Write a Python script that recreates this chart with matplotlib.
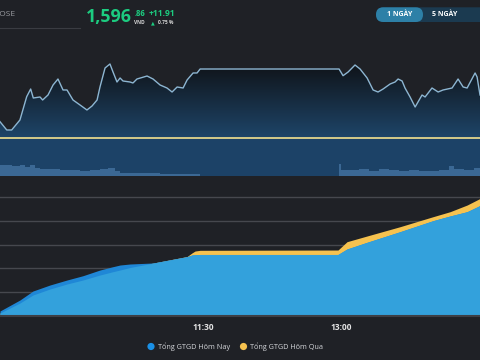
import matplotlib
matplotlib.use("Agg")
import matplotlib.pyplot as plt
import numpy as np
from matplotlib.patches import FancyBboxPatch, Circle
from matplotlib.colors import LinearSegmentedColormap

plt.rcParams['font.family'] = ['Open Sans', 'DejaVu Sans']

# ---------------- data ----------------
# time axis: minutes after 09:00
price_t = [17.5, 21.9, 25.1, 30.5, 34.9, 37.5, 39.2, 43.6, 45.3, 48.8, 52.1, 55.3, 58.6, 61.2,
           65.1, 69.7, 74.2, 77.5, 80.8, 82.7, 86.0, 89.2, 91.2, 93.8, 95.8, 97.7, 102.3, 104.2,
           106.8, 113.4, 117.3, 121.9, 126.4, 129.7, 133.0, 136.9, 139.5, 143.4, 146.0, 148.0,
           238.6, 241.2, 244.5, 249.0, 252.3, 256.9, 260.8, 264.0, 267.3, 271.9, 275.1, 277.1,
           279.7, 281.6, 284.9, 288.2, 292.7, 294.7, 299.2, 303.2, 306.4, 312.3, 316.2, 319.5,
           322.1, 327.3, 328.6, 330.5]
price_v = [1589.47, 1587.17, 1587.17, 1589.94, 1596.39, 1598.52, 1596.03, 1596.31, 1595.48,
           1596.86, 1599.63, 1601.29, 1598.25, 1598.25, 1595.48, 1594.09, 1592.71, 1593.81,
           1595.48, 1599.08, 1604.34, 1605.45, 1603.23, 1600.46, 1601.57, 1600.74, 1600.46,
           1600.19, 1601.29, 1602.12, 1601.29, 1599.63, 1598.80, 1597.69, 1599.08, 1598.80,
           1601.02, 1602.96, 1602.96, 1604.06, 1604.06, 1602.21, 1603.23, 1605.17, 1604.06,
           1601.57, 1598.25, 1597.69, 1598.52, 1599.91, 1600.46, 1601.29, 1600.74, 1598.80,
           1596.31, 1593.54, 1596.86, 1596.31, 1598.80, 1597.69, 1598.25, 1598.80, 1601.29,
           1599.08, 1598.80, 1602.96, 1601.85, 1596.86]
ref_price = 1584.95

vol_t = [17.5, 25.3, 30.5, 33.8, 37.1, 40.3, 43.6, 50.1, 56.6, 63.2, 69.7, 76.2, 82.7, 88.0,
         92.5, 95.8, 102.3, 108.8, 121.9, 135.0, 148.0, 238.6, 240.0, 245.2, 251.7, 258.2,
         264.7, 271.3, 277.8, 284.3, 290.8, 297.3, 303.8, 310.4, 313.6, 320.1, 326.6, 330.5]
vol_v = [11, 10, 11, 9, 11, 8, 7, 7, 6, 6, 5, 6, 7, 8, 5, 3, 3, 3, 2, 2, 0, 12, 6, 6, 7, 5,
         7, 6, 5, 6, 5, 5, 6, 10, 7, 6, 8, 8]

cum_t = [17.5, 30.5, 39.0, 50.1, 61.2, 71.6, 82.7, 91.2, 95.8, 102.3, 117.3, 139.5, 142.7,
         144.7, 148.0, 237.9, 243.8, 256.9, 278.4, 299.9, 311.0, 322.1, 330.5]
today_v = [840, 2690, 4200, 5210, 6050, 6770, 7730, 8290, 8570, 8740, 8910, 9970, 10250,
           10300, 10340, 10340, 11260, 12390, 14170, 16020, 16810, 17530, 18570]
yest_v = [500, 2180, 3530, 4540, 5380, 6050, 6890, 7450, 7730, 8150, 8890, 10000, 10600,
          10920, 11040, 11090, 12490, 13450, 15010, 16690, 17530, 18650, 19750]

xticks = [150, 240]
xtick_labels = ["11:30", "13:00"]
legend_labels = ["Tổng GTGD Hôm Nay", "Tổng GTGD Hôm Qua"]

# ---------------- styling ----------------
BG = '#1f2126'
W, H = 480, 360
fig = plt.figure(figsize=(4.8, 3.6), dpi=100, facecolor=BG)

def rect(x0, y0, x1, y1):
    return [x0 / W, 1 - y1 / H, (x1 - x0) / W, (y1 - y0) / H]

XLIM = (17.5, 330.5)
pscale = 0.277

# price chart
axp = fig.add_axes(rect(0, 30, 480, 138))
axp.set_facecolor(BG)
axp.set_xlim(*XLIM)
ytop = ref_price + 108 * pscale
axp.set_ylim(ref_price, ytop)
axp.axis('off')
pt = np.array(price_t); pv = np.array(price_v)
poly = axp.fill_between(pt, ref_price, pv, color='none', lw=0)
cmap = LinearSegmentedColormap.from_list('g', ['#1e4569', '#0f1216'])
grad = np.linspace(0, 1, 256).reshape(-1, 1)
g_top = ref_price + 76 * pscale
im = axp.imshow(grad, cmap=cmap, aspect='auto', origin='lower',
                extent=[XLIM[0], XLIM[1], ref_price, g_top], zorder=1)
path = poly.get_paths()[0]
im.set_clip_path(path, transform=axp.transData)
axp.set_ylim(ref_price, ytop)
axp.plot(pt, pv, color='#8db6d2', lw=1.0, zorder=3)

# volume panel
axv = fig.add_axes(rect(0, 138, 480, 176))
axv.set_facecolor('#1c4267')
axv.set_xlim(*XLIM)
axv.set_ylim(0, 38)
axv.fill_between(vol_t, 0, vol_v, step='post', color='#3b6894', lw=0)
for s in axv.spines.values():
    s.set_visible(False)
axv.set_xticks([]); axv.set_yticks([])
axv.axhline(38, color='#e3d68c', lw=1.3, clip_on=False)

# cumulative value chart
axc = fig.add_axes(rect(0, 185, 480, 316))
axc.set_facecolor(BG)
axc.set_xlim(*XLIM)
step = 4000
ymax = (316 - 185) / 23.8 * step
axc.set_ylim(0, ymax)
ct = np.array(cum_t); tv = np.array(today_v); yv = np.array(yest_v)
axc.fill_between(ct, 0, yv, color='#f6c24f', lw=0, zorder=2)
axc.fill_between(ct, 0, tv, color='#1f87d6', lw=0, zorder=3)
axc.fill_between(ct, 0, np.minimum(tv, yv), color='#33a1dc', lw=0, zorder=4)
axc.set_yticks([4000, 8000, 12000, 16000, 20000])
axc.yaxis.grid(True, color='#46484e', lw=1)
axc.set_axisbelow(True)
axc.tick_params(axis='y', length=0, labelleft=False)
axc.set_xticks(xticks)
axc.set_xticklabels(xtick_labels, fontsize=6, fontweight='bold', color='#e4e4e4')
axc.tick_params(axis='x', length=0, pad=5)
for k, s in axc.spines.items():
    s.set_visible(k == 'bottom')
axc.spines['bottom'].set_color('#3d3f45')
axc.spines['bottom'].set_linewidth(1.5)
axc.spines['bottom'].set_zorder(6)

# overlay for header / legend
ov = fig.add_axes([0, 0, 1, 1], facecolor='none')
ov.set_xlim(0, W); ov.set_ylim(H, 0); ov.axis('off')

ov.text(-7, 15, 'HOSE', fontsize=6, color='#9a9ca1', va='center', ha='left')
ov.plot([0, 80], [27.7, 27.7], color='#3a3c42', lw=0.8)
green = '#1ccc80'
ov.text(86, 17.5, '1,596', fontsize=12.8, fontweight='bold', color=green, va='center', ha='left')
ov.text(134.5, 14, '.86', fontsize=5.5, fontweight='bold', color=green, va='center', ha='left')
ov.text(134.5, 22.5, 'VND', fontsize=3.5, fontweight='bold', color='#d8d8d8', va='center', ha='left')
ov.text(149, 14, '+11.91', fontsize=6, fontweight='bold', color=green, va='center', ha='left')
ov.text(151, 23, '▲', fontsize=3.5, color=green, va='center', ha='left', family='DejaVu Sans')
ov.text(158, 23, '0.75 %', fontsize=3.5, fontweight='bold', color='#d8d8d8', va='center', ha='left')

ov.add_patch(FancyBboxPatch((376, 7.3), 112, 14.7, boxstyle='round,pad=0,rounding_size=7.3',
                            fc='#1b3a50', ec='none'))
ov.add_patch(FancyBboxPatch((376, 7.3), 47, 14.7, boxstyle='round,pad=0,rounding_size=7.3',
                            fc='#2d80a7', ec='none'))
ov.text(399.5, 14.8, '1 NGÀY', fontsize=5, fontweight='bold', color='white', va='center', ha='center')
ov.text(445, 14.8, '5 NGÀY', fontsize=5, fontweight='bold', color='white', va='center', ha='center')

ov.add_patch(Circle((151, 346.5), 3.6, fc='#1a90e6', ec='none'))
ov.text(157.5, 346.5, legend_labels[0], fontsize=5.2, color='#d4d6da', va='center', ha='left')
ov.add_patch(Circle((243.5, 346.5), 3.6, fc='#f6c24f', ec='none'))
ov.text(250.5, 346.5, legend_labels[1], fontsize=5.2, color='#d4d6da', va='center', ha='left')

fig.savefig('out.png', dpi=100, facecolor=BG)
